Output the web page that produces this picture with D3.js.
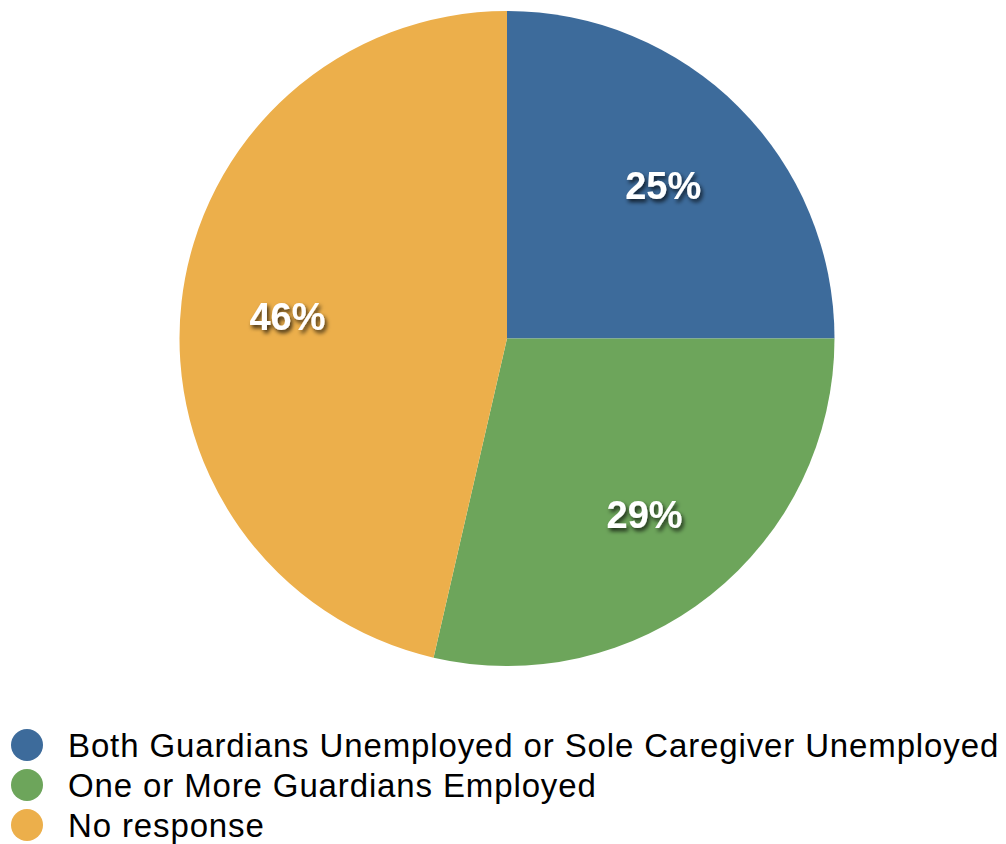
<!DOCTYPE html>
<html>
<head>
<meta charset="utf-8">
<script src="https://cdn.jsdelivr.net/npm/d3@7"></script>
<style>
  body { margin: 0; background: #fff; }
  svg { display: block; font-family: "Liberation Sans", Arial, Helvetica, sans-serif; }
</style>
</head>
<body>
<div id="chart"></div>
<script>
const categories = [
  "Both Guardians Unemployed or Sole Caregiver Unemployed",
  "One or More Guardians Employed",
  "No response"
];
// shares; labels show them rounded
const values = [25.0, 28.6, 46.4];
const colors = ["#3d6b9b", "#6da55b", "#ecaf4b"];

const width = 1006, height = 844;
const cx = 507, cy = 338.5, radius = 327.5;

const svg = d3.select("#chart").append("svg")
  .attr("width", width)
  .attr("height", height);

const defs = svg.append("defs");
const shadow = defs.append("filter")
  .attr("id", "txtShadow")
  .attr("x", "-20%").attr("y", "-20%")
  .attr("width", "140%").attr("height", "160%");
shadow.append("feDropShadow")
  .attr("dx", 2).attr("dy", 3)
  .attr("stdDeviation", 2)
  .attr("flood-color", "#000")
  .attr("flood-opacity", 0.75);

const data = categories.map((c, i) => ({ name: c, value: values[i], color: colors[i] }));

const pie = d3.pie().value(d => d.value).sort(null);
const arc = d3.arc().innerRadius(0).outerRadius(radius);
const labelArc = d3.arc().innerRadius(221).outerRadius(221);

const g = svg.append("g").attr("transform", `translate(${cx},${cy})`);
const arcs = pie(data);

g.selectAll("path.slice")
  .data(arcs)
  .enter()
  .append("path")
  .attr("class", "slice")
  .attr("d", arc)
  .attr("fill", d => d.data.color);

g.selectAll("text.pct")
  .data(arcs)
  .enter()
  .append("text")
  .attr("class", "pct")
  .attr("transform", d => `translate(${labelArc.centroid(d)})`)
  .attr("text-anchor", "middle")
  .attr("dy", "0.43em")
  .attr("fill", "#fff")
  .attr("font-weight", "bold")
  .attr("font-size", "38px")
  .attr("filter", "url(#txtShadow)")
  .text(d => Math.round(d.data.value) + "%");

// legend
const legend = svg.append("g");
const rows = legend.selectAll("g")
  .data(data)
  .enter()
  .append("g")
  .attr("transform", (d, i) => `translate(27,${745 + i * 40})`);

rows.append("circle")
  .attr("r", 16)
  .attr("fill", d => d.color);

rows.append("text")
  .attr("x", 41)
  .attr("dy", "0.36em")
  .attr("font-size", "33px")
  .attr("letter-spacing", "0.87px")
  .attr("fill", "#000")
  .text(d => d.name);
</script>
</body>
</html>
